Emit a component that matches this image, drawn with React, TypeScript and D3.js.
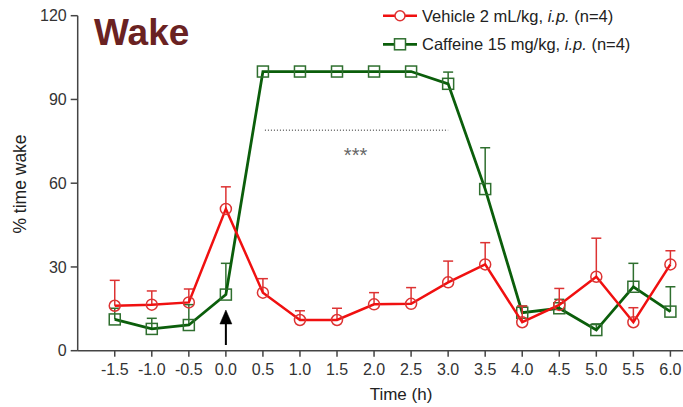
import React from 'react';
import * as d3 from 'd3';

// time points (h) relative to injection
const times = [-1.5, -1.0, -0.5, 0.0, 0.5, 1.0, 1.5, 2.0, 2.5, 3.0, 3.5, 4.0, 4.5, 5.0, 5.5, 6.0];
const vehicleMean = [16.1, 16.5, 17.3, 50.8, 20.8, 11.0, 11.0, 16.6, 16.8, 24.5, 30.9, 10.2, 16.4, 26.5, 10.2, 30.9];
const vehicleSem = [9.1, 4.9, 4.8, 7.9, 5.0, 3.3, 4.2, 4.2, 5.8, 7.6, 7.8, 5.8, 5.9, 13.8, 5.2, 4.9];
const caffeineMean = [11.2, 7.8, 9.2, 20.1, 100, 100, 100, 100, 100, 95.6, 57.9, 13.6, 15.2, 7.4, 22.9, 14.0];
const caffeineSem = [4.0, 3.8, 7.3, 11.2, 0, 0, 0, 0, 0, 4.2, 14.8, 2.4, 3.2, 2.2, 8.4, 8.9];
const yTicks = [0, 30, 60, 90, 120];
const xTicks = times;
const sigStart = 0.5;
const sigEnd = 3.0;
const sigLevel = 79;

const W = 683;
const H = 407;
const FONT = '"Liberation Sans", Arial, sans-serif';

const RED = '#f01010';
const RED_MARK = '#dd3333';
const GREEN = '#0b5e0b';
const GREEN_MARK = '#2f6f2f';

export default function App() {
  const x = d3.scaleLinear().domain([-2, 6.17]).range([77.7, 683]);
  const y = d3.scaleLinear().domain([0, 120]).range([350.7, 15.7]);

  const line = d3
    .line<number>()
    .x((_, i) => x(times[i]))
    .y((d) => y(d));

  const errBars = (mean: number[], sem: number[], color: string) =>
    mean.map((m, i) =>
      sem[i] > 0 ? (
        <g key={i} stroke={color} strokeWidth={1.5}>
          <line x1={x(times[i])} x2={x(times[i])} y1={y(m)} y2={y(m + sem[i])} />
          <line x1={x(times[i]) - 5} x2={x(times[i]) + 5} y1={y(m + sem[i])} y2={y(m + sem[i])} />
        </g>
      ) : null,
    );

  const axisColor = '#444';

  return (
    <svg
      width={W}
      height={H}
      style={{ position: 'absolute', left: 0, top: 0, background: '#fff' }}
      fontFamily={FONT}
    >
      {/* title */}
      <text x={94} y={45} fontSize={37} fontWeight="bold" fill="#6a2222">
        Wake
      </text>

      {/* axes */}
      <g stroke={axisColor} strokeWidth={1.5}>
        <line x1={x(-2)} x2={x(-2)} y1={y(120)} y2={y(0)} />
        <line x1={x(-2)} x2={W} y1={y(0)} y2={y(0)} />
        {yTicks.map((t) => (
          <line key={t} x1={x(-2) - 7} x2={x(-2)} y1={y(t)} y2={y(t)} />
        ))}
        {xTicks.map((t) => (
          <line key={t} x1={x(t)} x2={x(t)} y1={y(0)} y2={y(0) + 6} />
        ))}
      </g>
      <g fill="#333" fontSize={16}>
        {yTicks.map((t) => (
          <text key={t} x={x(-2) - 11} y={y(t)} dy="0.36em" textAnchor="end">
            {t}
          </text>
        ))}
        {xTicks.map((t) => (
          <text key={t} x={x(t)} y={374.5} textAnchor="middle">
            {t.toFixed(1)}
          </text>
        ))}
      </g>
      <text x={401} y={400} fontSize={17} fill="#222" textAnchor="middle">
        Time (h)
      </text>
      <text
        transform={`translate(26, 184) rotate(-90)`}
        fontSize={17.5}
        fill="#222"
        textAnchor="middle"
      >
        % time wake
      </text>

      {/* significance marker */}
      <line
        x1={x(sigStart) + 2}
        x2={x(sigEnd)}
        y1={y(sigLevel)}
        y2={y(sigLevel)}
        stroke="#222"
        strokeWidth={1}
        strokeDasharray="1 2"
      />
      <text x={(x(sigStart) + x(sigEnd)) / 2} y={162} fontSize={20} fill="#666" textAnchor="middle">
        ***
      </text>

      {/* injection arrow */}
      <g fill="#000" stroke="#000">
        <line x1={x(0)} x2={x(0)} y1={345} y2={322} strokeWidth={2} />
        <path d={`M${x(0)},310 L${x(0) - 6},324 L${x(0) + 6},324 Z`} strokeWidth={0.5} />
      </g>

      {/* caffeine */}
      {errBars(caffeineMean, caffeineSem, GREEN_MARK)}
      <path d={line(caffeineMean) ?? ''} fill="none" stroke={GREEN} strokeWidth={2.8} />
      {caffeineMean.map((m, i) => (
        <rect
          key={i}
          x={x(times[i]) - 5.5}
          y={y(m) - 5.5}
          width={11}
          height={11}
          fill="none"
          stroke={GREEN_MARK}
          strokeWidth={1.5}
        />
      ))}

      {/* vehicle */}
      {errBars(vehicleMean, vehicleSem, RED_MARK)}
      <path d={line(vehicleMean) ?? ''} fill="none" stroke={RED} strokeWidth={2.5} />
      {vehicleMean.map((m, i) => (
        <circle key={i} cx={x(times[i])} cy={y(m)} r={5.5} fill="none" stroke={RED_MARK} strokeWidth={1.5} />
      ))}

      {/* legend */}
      <g>
        <line x1={383} x2={417} y1={15.7} y2={15.7} stroke={RED} strokeWidth={2.5} />
        <circle cx={400} cy={15.7} r={5} fill="#fff" stroke={RED_MARK} strokeWidth={1.5} />
        <text x={422} y={21.5} fontSize={16.5} fill="#222">
          Vehicle 2 mL/kg, <tspan fontStyle="italic">i.p.</tspan> (n=4)
        </text>
        <line x1={383} x2={417} y1={44.3} y2={44.3} stroke={GREEN} strokeWidth={2.8} />
        <rect x={394.5} y={38.8} width={11} height={11} fill="#fff" stroke={GREEN_MARK} strokeWidth={1.5} />
        <text x={422} y={50.1} fontSize={16.5} fill="#222">
          Caffeine 15 mg/kg, <tspan fontStyle="italic">i.p.</tspan> (n=4)
        </text>
      </g>
    </svg>
  );
}
